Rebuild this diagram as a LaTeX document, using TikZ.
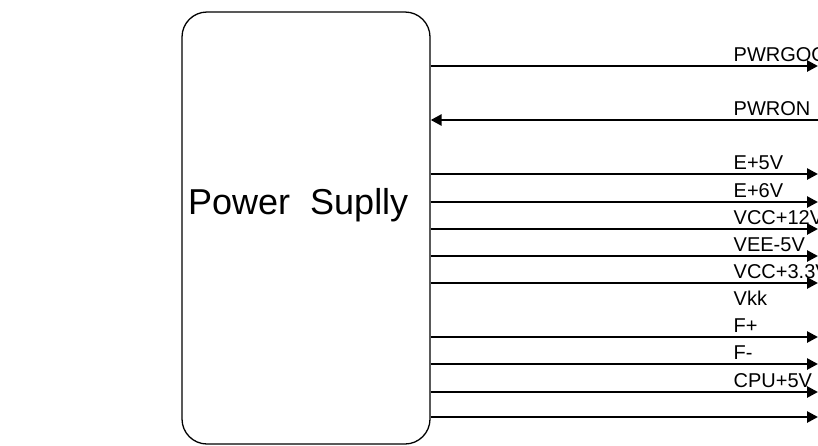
\documentclass[tikz,border=0pt]{standalone}
\usepackage{fontspec}
\setmainfont{Liberation Sans}
\usetikzlibrary{arrows.meta}
\tikzset{
  psbox/.style={draw, line width=1.3pt, rounded corners=25pt, minimum width=248pt, minimum height=432pt, inner sep=0pt},
  bigtext/.style={anchor=base west, inner sep=0pt, font=\fontsize{36}{36}\selectfont},
  lab/.style={anchor=base west, inner sep=0pt, font=\fontsize{20}{20}\selectfont},
  sig/.style={line width=2.6pt, -{Triangle[length=11pt,width=11pt]}},
  sigin/.style={line width=2.6pt, {Triangle[length=11pt,width=11pt]}-},
}
\begin{document}
\begin{tikzpicture}[x=1pt,y=-1pt]
\useasboundingbox (0,0) rectangle (818,445);
\clip (0,0) rectangle (818,445);
\node[psbox] (ps) at (306,228) {};
\node[bigtext] (pstext) at (188,214) {Power\ \ Suplly};
% right-end coordinates
\coordinate (e1) at (818,66);
\coordinate (e2) at (818,120);
\coordinate (e3) at (818,174);
\coordinate (e4) at (818,202);
\coordinate (e5) at (818,229);
\coordinate (e6) at (818,256);
\coordinate (e7) at (818,283);
\coordinate (e8) at (818,337);
\coordinate (e9) at (818,364);
\coordinate (e10) at (818,392);
\coordinate (e11) at (818,417);
\draw[sig] (ps.east |- e1) -- (e1);
\draw[sigin] (ps.east |- e2) -- (e2);
\draw[sig] (ps.east |- e3) -- (e3);
\draw[sig] (ps.east |- e4) -- (e4);
\draw[sig] (ps.east |- e5) -- (e5);
\draw[sig] (ps.east |- e6) -- (e6);
\draw[sig] (ps.east |- e7) -- (e7);
\draw[sig] (ps.east |- e8) -- (e8);
\draw[sig] (ps.east |- e9) -- (e9);
\draw[sig] (ps.east |- e10) -- (e10);
\draw[sig] (ps.east |- e11) -- (e11);
% labels
\node[lab] (l1) at (733.5,61) {PWRGOOD};
\node[lab] (l2) at (733.5,115) {PWRON};
\node[lab] (l3) at (733.5,169) {E+5V};
\node[lab] (l4) at (733.5,197) {E+6V};
\node[lab] (l5) at (733.5,224) {VCC+12V};
\node[lab] (l6) at (733.5,251) {VEE-5V};
\node[lab] (l7) at (733.5,278) {VCC+3.3V};
\node[lab] (l8) at (733.5,305) {Vkk};
\node[lab] (l9) at (733.5,332) {F+};
\node[lab] (l10) at (733.5,359) {F-};
\node[lab] (l11) at (733.5,387) {CPU+5V};
\end{tikzpicture}
\end{document}
